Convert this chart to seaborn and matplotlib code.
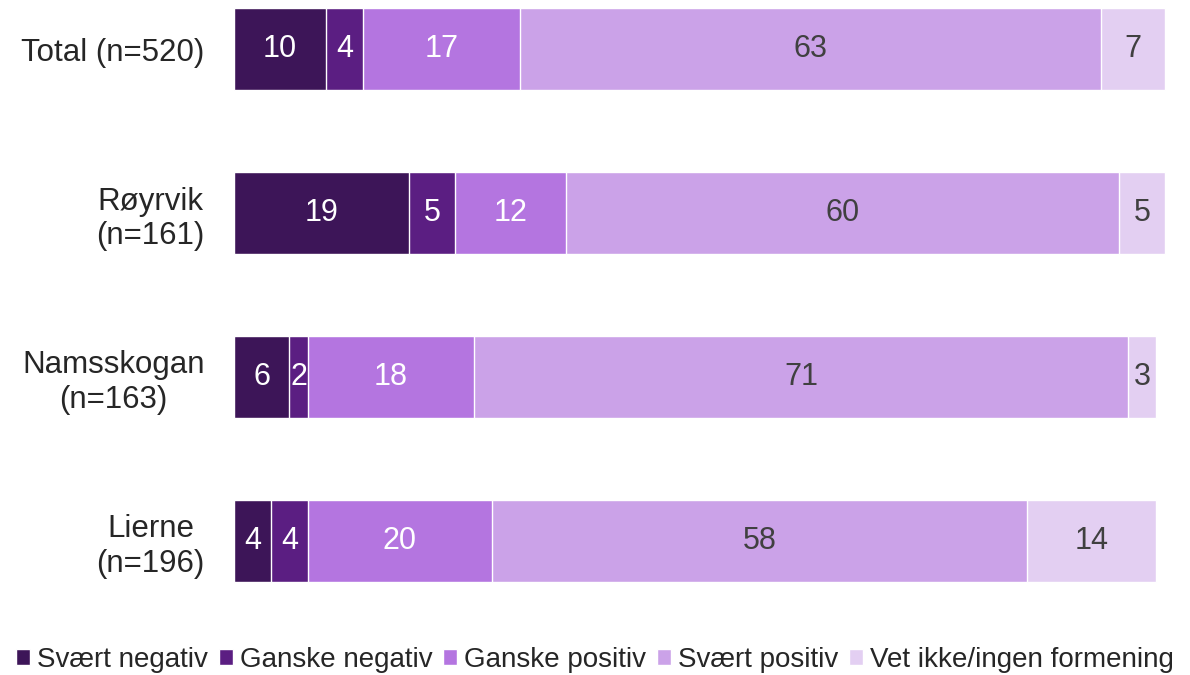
import numpy as np
import pandas as pd
import matplotlib.pyplot as plt
import seaborn as sns
from matplotlib.patches import Patch

# Data
groups = ["Total (n=520)", "Røyrvik\n(n=161)", "Namsskogan\n(n=163)", "Lierne\n(n=196)"]
categories = ["Svært negativ", "Ganske negativ", "Ganske positiv", "Svært positiv",
              "Vet ikke/ingen formening"]
svaert_neg = [10, 19, 6, 4]
ganske_neg = [4, 5, 2, 4]
ganske_pos = [17, 12, 18, 20]
svaert_pos = [63, 60, 71, 58]
vet_ikke = [7, 5, 3, 14]

colors = ["#3D1558", "#5B1E82", "#B475E0", "#CBA2E8", "#E3CFF2"]
text_colors = ["white", "white", "white", "#404040", "#404040"]

sns.set_theme(style="white")
plt.rcParams['font.family'] = ['Liberation Sans', 'DejaVu Sans']

values = np.array([svaert_neg, ganske_neg, ganske_pos, svaert_pos, vet_ikke])
cum = values.cumsum(axis=0)

fig = plt.figure(figsize=(11.9, 6.75), dpi=100)
ax = fig.add_axes([234 / 1190, 1 - 590 / 675, (1190 - 234) / 1190, 590 / 675])

# stacked bars: draw cumulative totals from largest to smallest
for i in range(len(categories) - 1, -1, -1):
    df = pd.DataFrame({"group": groups, "value": cum[i]})
    sns.barplot(data=df, x="value", y="group", orient="h", color=colors[i],
                width=0.5, edgecolor="white", linewidth=1, ax=ax, saturation=1)

for i in range(len(categories)):
    for j in range(len(groups)):
        v = values[i, j]
        ax.text(cum[i, j] - v / 2, j, str(v), ha="center", va="center",
                fontsize=22, color=text_colors[i])

ax.set_xlim(0, 103.7)
ax.set_ylim(3.299, -0.299)
ax.set_xlabel("")
ax.set_ylabel("")
ax.set_xticks([])
ax.tick_params(axis="y", labelsize=22.5, length=0, pad=21)
for lab in ax.get_yticklabels():
    lab.set_color("#262626")
    lab.set_multialignment("center")
sns.despine(ax=ax, left=True, bottom=True)

handles = [Patch(facecolor=c, edgecolor="white") for c in colors]
fig.legend(handles, categories, loc="center", bbox_to_anchor=(0.5, 1 - 660 / 675),
           ncol=5, frameon=False, fontsize=20, handlelength=0.5, handleheight=0.5,
           handletextpad=0.25, columnspacing=0.4, labelcolor="#262626",
           borderpad=0, borderaxespad=0)

fig.savefig("out.png", dpi=100)
